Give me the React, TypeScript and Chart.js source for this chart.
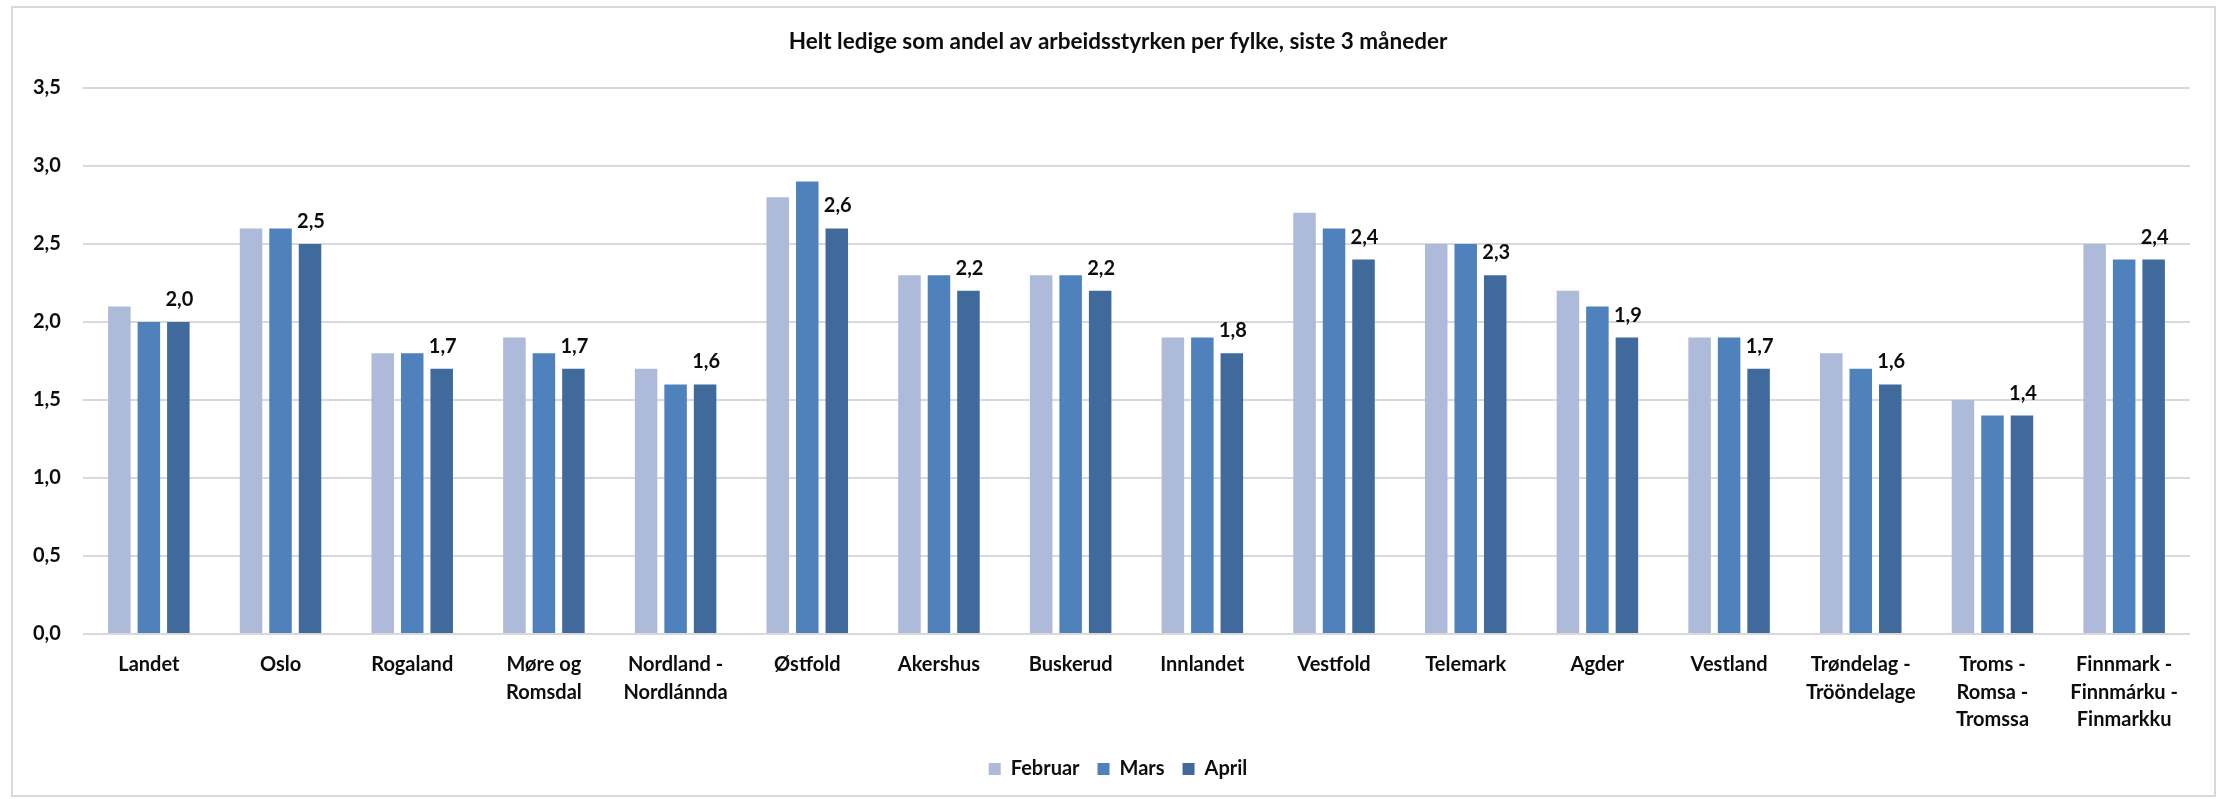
import React, { useEffect, useRef } from "react";
import { Chart, registerables } from "chart.js";

Chart.register(...registerables);

const chartTitle = "Helt ledige som andel av arbeidsstyrken per fylke, siste 3 måneder";

const categories: (string | string[])[] = [
  "Landet",
  "Oslo",
  "Rogaland",
  ["Møre og", "Romsdal"],
  ["Nordland -", "Nordlánnda"],
  "Østfold",
  "Akershus",
  "Buskerud",
  "Innlandet",
  "Vestfold",
  "Telemark",
  "Agder",
  "Vestland",
  ["Trøndelag -", "Trööndelage"],
  ["Troms -", "Romsa -", "Tromssa"],
  ["Finnmark -", "Finnmárku -", "Finmarkku"],
];

const seriesNames = ["Februar", "Mars", "April"];
const februar = [2.1, 2.6, 1.8, 1.9, 1.7, 2.8, 2.3, 2.3, 1.9, 2.7, 2.5, 2.2, 1.9, 1.8, 1.5, 2.5];
const mars = [2.0, 2.6, 1.8, 1.8, 1.6, 2.9, 2.3, 2.3, 1.9, 2.6, 2.5, 2.1, 1.9, 1.7, 1.4, 2.4];
const april = [2.0, 2.5, 1.7, 1.7, 1.6, 2.6, 2.2, 2.2, 1.8, 2.4, 2.3, 1.9, 1.7, 1.6, 1.4, 2.4];
const seriesColors = ["#ADBAD9", "#4F81BD", "#3F6A9B"];

const yMin = 0;
const yMax = 3.5;
const yStep = 0.5;

const FONT = "Lato";
const TEXT = "#0D0D0D";

const fmt = (v: number) => v.toFixed(1).replace(".", ",");

const aprilLabels = {
  id: "aprilLabels",
  afterDatasetsDraw(chart: any) {
    const meta = chart.getDatasetMeta(2);
    const ctx = chart.ctx;
    ctx.save();
    ctx.font = `bold 20px ${FONT}`;
    ctx.fillStyle = TEXT;
    ctx.textAlign = "center";
    ctx.textBaseline = "alphabetic";
    meta.data.forEach((bar: any, i: number) => {
      ctx.fillText(fmt(april[i]), bar.x + 1, bar.y - 16);
    });
    ctx.restore();
  },
};

export default function App() {
  const ref = useRef<HTMLCanvasElement>(null);

  useEffect(() => {
    if (!ref.current) return;
    const chart = new Chart(ref.current, {
      type: "bar",
      data: {
        labels: categories,
        datasets: [februar, mars, april].map((d, i) => ({
          label: seriesNames[i],
          data: d,
          backgroundColor: seriesColors[i],
          borderWidth: 0,
          categoryPercentage: 0.672,
          barPercentage: 0.763,
        })),
      },
      options: {
        animation: false,
        responsive: false,
        maintainAspectRatio: false,
        layout: { padding: { top: 0, left: 33, right: 24, bottom: 6 } },
        plugins: {
          title: {
            display: true,
            text: chartTitle,
            color: TEXT,
            font: { family: FONT, size: 22.5, weight: "bold", lineHeight: 1.2 },
            padding: { top: 20, bottom: 33 },
          },
          legend: {
            position: "bottom",
            labels: {
              color: TEXT,
              font: { family: FONT, size: 20, weight: "bold" },
              boxWidth: 12,
              boxHeight: 12,
              padding: 18,
            },
          },
          tooltip: { enabled: false },
        },
        scales: {
          x: {
            grid: { display: false },
            border: { display: false },
            ticks: {
              color: TEXT,
              font: { family: FONT, size: 20, weight: "bold", lineHeight: 1.38 },
              padding: 9,
              maxRotation: 0,
              autoSkip: false,
            },
            afterFit: (scale: any) => {
              scale.height = 107;
            },
          },
          y: {
            min: yMin,
            max: yMax,
            grid: { color: "#D9D9D9", lineWidth: 2, drawTicks: false },
            border: { display: false },
            ticks: {
              stepSize: yStep,
              color: TEXT,
              font: { family: FONT, size: 20, weight: "bold" },
              mirror: true,
              crossAlign: "far",
              padding: -50,
              callback: (v: any) => fmt(Number(v)),
            },
            afterFit: (scale: any) => {
              scale.width = 37;
            },
          },
        },
      },
      plugins: [aprilLabels],
    });
    return () => chart.destroy();
  }, []);

  return (
    <div
      style={{
        position: "absolute",
        left: 11,
        top: 6,
        width: 2205,
        height: 791,
        border: "2px solid #D9D9D9",
        boxSizing: "border-box",
        background: "#fff",
      }}
    >
      <canvas ref={ref} width={2201} height={787} style={{ display: "block", width: 2201, height: 787 }} />
    </div>
  );
}
